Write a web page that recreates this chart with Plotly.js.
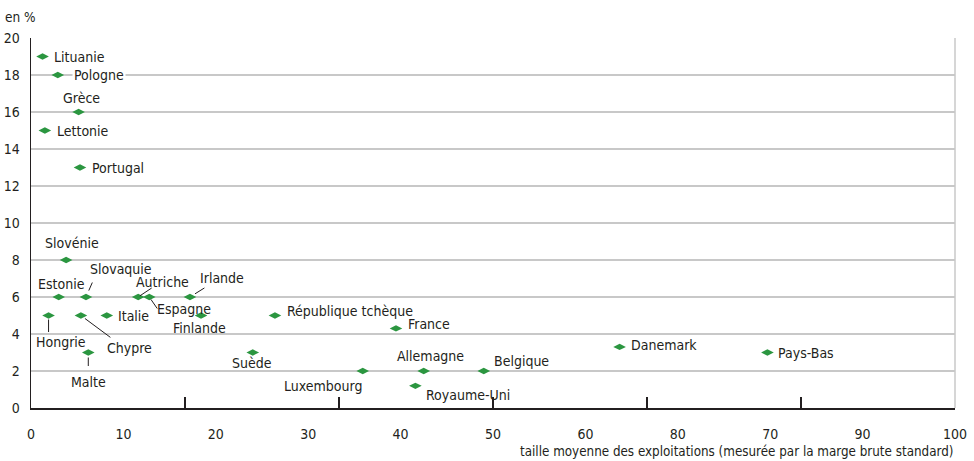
<!DOCTYPE html>
<html>
<head>
<meta charset="utf-8">
<script src="https://cdn.plot.ly/plotly-3.0.1.min.js"></script>
<style>
  html, body { margin: 0; padding: 0; background: #fff; }
  #chart { width: 974px; height: 461px; }
</style>
</head>
<body>
<div id="chart"></div>
<script>
// ---- Data ----
const countries = ['Lituanie','Pologne','Grèce','Lettonie','Portugal','Slovénie','Estonie','Slovaquie',
  'Autriche','Espagne','Irlande','Hongrie','Chypre','Italie','Malte','Finlande','République tchèque',
  'Suède','France','Luxembourg','Allemagne','Belgique','Royaume-Uni','Danemark','Pays-Bas'];
const avgFarmSize = [1.25, 2.9, 5.15, 1.5, 5.3, 3.8, 3.0, 5.95,
  11.6, 12.8, 17.2, 1.9, 5.4, 8.2, 6.2, 18.4, 26.4,
  24.0, 39.5, 35.9, 42.5, 49.0, 41.6, 63.7, 79.7];
const sharePct = [19, 18, 16, 15, 13, 8, 6, 6,
  6, 6, 6, 5, 5, 5, 3, 5, 5,
  3, 4.3, 2, 2, 2, 1.2, 3.3, 3];
const xTickValues = [0, 10, 20, 30, 40, 50, 60, 70, 80, 90, 100];
const xTickLabels = ['0','10','20','30','40','50','60','80','70','90','100'];
const yTickValues = [0, 2, 4, 6, 8, 10, 12, 14, 16, 18, 20];
const xMarkTicks = [1, 2, 3, 4, 5];
const yUnitLabel = 'en %';
const xAxisLabel = 'taille moyenne des exploitations (mesurée par la marge brute standard)';

// ---- Label placement (screen pixel offsets; layout only) ----
const place = {
  'Lituanie': {a:'left', dx:9, dy:0},
  'Pologne': {a:'left', dx:14, dy:0, bg:true},
  'Grèce': {a:'center', dx:3, dy:-14},
  'Lettonie': {a:'left', dx:10, dy:0},
  'Portugal': {a:'left', dx:10, dy:0},
  'Slovénie': {a:'center', dx:6, dy:-17},
  'Estonie': {a:'center', dx:3, dy:-13},
  'Slovaquie': {a:'center', dx:35, dy:-28, lead:[7,-16,7]},
  'Autriche': {a:'center', dx:24, dy:-15, lead:[15,-10,2]},
  'Espagne': {a:'center', dx:35, dy:12, lead:[9,13,3]},
  'Irlande': {a:'center', dx:32, dy:-19, lead:[16,-10,6]},
  'Hongrie': {a:'center', dx:12, dy:26, lead:[0,18,4]},
  'Chypre': {a:'center', dx:49, dy:32, lead:[31,23,5]},
  'Italie': {a:'left', dx:9, dy:0},
  'Malte': {a:'center', dx:0, dy:29, lead:[0,15,5]},
  'Finlande': {a:'center', dx:-2, dy:12},
  'République tchèque': {a:'left', dx:10, dy:-5},
  'Suède': {a:'center', dx:-1, dy:10},
  'France': {a:'left', dx:10, dy:-4},
  'Luxembourg': {a:'right', dx:1, dy:15},
  'Allemagne': {a:'center', dx:7, dy:-15},
  'Belgique': {a:'left', dx:8, dy:-10},
  'Royaume-Uni': {a:'left', dx:9, dy:9},
  'Danemark': {a:'left', dx:9, dy:-2},
  'Pays-Bas': {a:'left', dx:9, dy:0}
};

const FONT = '"DejaVu Sans Condensed", "Liberation Sans Narrow", sans-serif';
const TXT = '#231f20';
const GREEN = '#2b9640';
const GRID = '#c8c8c8';

const annotations = [];
countries.forEach((c, i) => {
  const p = place[c];
  annotations.push({
    x: avgFarmSize[i], y: sharePct[i], xref: 'x', yref: 'y',
    text: c, showarrow: false,
    xanchor: p.a, yanchor: 'middle',
    xshift: p.dx, yshift: -p.dy,
    font: {family: FONT, size: 14, color: TXT},
    bgcolor: p.bg ? '#ffffff' : 'rgba(0,0,0,0)',
    borderpad: 1
  });
  if (p.lead) {
    annotations.push({
      x: avgFarmSize[i], y: sharePct[i], xref: 'x', yref: 'y',
      text: '', showarrow: true, arrowhead: 0, arrowwidth: 1, arrowcolor: TXT,
      ax: p.lead[0], ay: p.lead[1], standoff: p.lead[2],
      font: {size: 1}
    });
  }
});

annotations.push({
  xref: 'paper', yref: 'paper', x: -0.03, y: 1.0576,
  xanchor: 'left', yanchor: 'middle', showarrow: false,
  text: yUnitLabel, font: {family: FONT, size: 13.5, color: TXT}
});
annotations.push({
  xref: 'paper', yref: 'paper', x: 1, y: -0.118,
  xanchor: 'right', yanchor: 'middle', showarrow: false,
  text: xAxisLabel, font: {family: FONT, size: 13.3, color: TXT}
});

const trace = {
  type: 'scatter', mode: 'markers',
  x: avgFarmSize, y: sharePct, text: countries,
  marker: {symbol: 'diamond-wide', size: 9, color: GREEN, line: {width: 0}},
  hoverinfo: 'text+x+y', showlegend: false
};
// empty helper trace so the secondary (tick-mark) axis gets drawn
const tickAxisTrace = {
  type: 'scatter', mode: 'markers', x: [], y: [], xaxis: 'x2', yaxis: 'y',
  hoverinfo: 'skip', showlegend: false
};

const layout = {
  width: 974, height: 461,
  margin: {l: 30.7, r: 19, t: 38.3, b: 52.7},
  paper_bgcolor: '#ffffff', plot_bgcolor: '#ffffff',
  font: {family: FONT, size: 14, color: TXT},
  showlegend: false,
  xaxis: {
    range: [0, 100], tickmode: 'array', tickvals: xTickValues, ticktext: xTickLabels,
    ticks: '', showgrid: false, zeroline: false,
    showline: true, linecolor: TXT, linewidth: 2,
    ticklabelstandoff: 12,
    tickfont: {family: FONT, size: 14, color: TXT},
    fixedrange: true
  },
  xaxis2: {
    overlaying: 'x', anchor: 'y', side: 'bottom',
    range: [0, 6], tickmode: 'array', tickvals: xMarkTicks,
    ticks: 'inside', ticklen: 11, tickwidth: 1.5, tickcolor: TXT,
    showticklabels: false, showgrid: false, zeroline: false, showline: false,
    fixedrange: true
  },
  yaxis: {
    range: [0, 20], tickmode: 'array', tickvals: yTickValues,
    ticks: '', showgrid: true, gridcolor: GRID, gridwidth: 1.2,
    zeroline: false, showline: true, linecolor: TXT, linewidth: 1.5,
    ticklabelstandoff: 7,
    tickfont: {family: FONT, size: 14, color: TXT},
    fixedrange: true
  },
  shapes: [{
    type: 'line', xref: 'paper', yref: 'paper', x0: 1, x1: 1, y0: 0, y1: 1,
    line: {color: GRID, width: 1.5}
  }],
  annotations: annotations
};

Plotly.newPlot('chart', [trace, tickAxisTrace], layout, {displayModeBar: false, staticPlot: true});
</script>
</body>
</html>
